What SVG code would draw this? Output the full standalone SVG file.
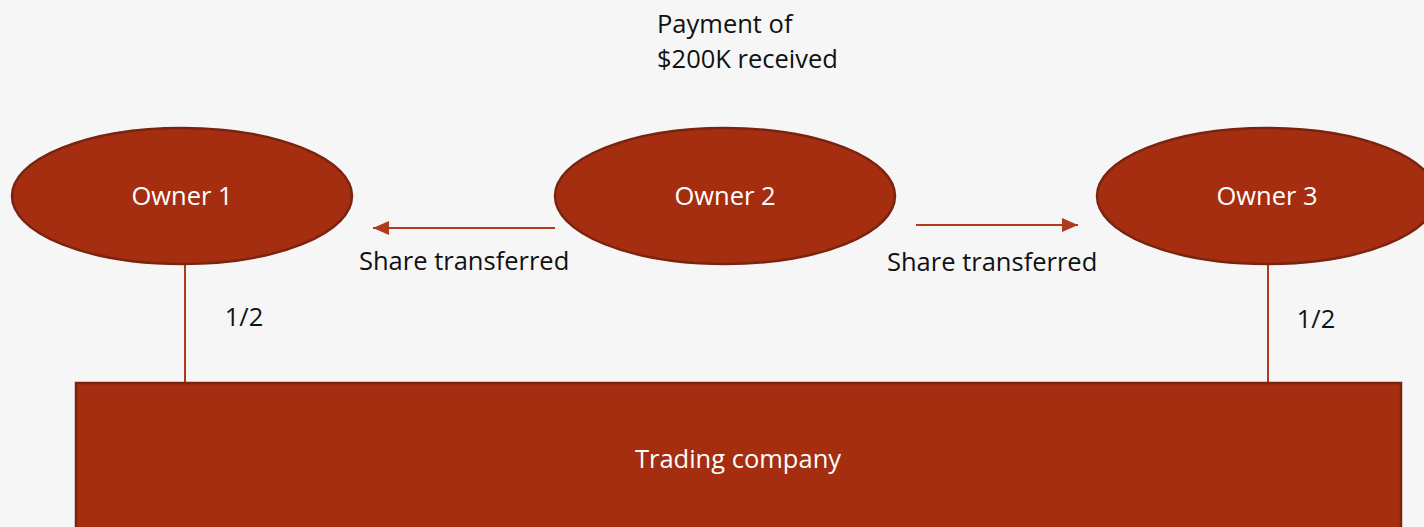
<svg xmlns="http://www.w3.org/2000/svg" width="1424" height="527" viewBox="0 0 1424 527">
<defs>
<style>
.shape{fill:#a52d10;stroke:#7a2410;stroke-width:2.5}
.wt{font-family:"Open Sans","Liberation Sans",sans-serif;font-size:25.5px;fill:#ffffff;text-anchor:middle}
.bt{font-family:"Open Sans","Liberation Sans",sans-serif;font-size:25.5px;fill:#111111}
.conn{stroke:#b03a1c;stroke-width:2;fill:none}
</style>
<marker id="ah2" markerWidth="16" markerHeight="14" refX="16" refY="7" orient="auto" markerUnits="userSpaceOnUse" viewBox="0 0 16 14">
<path d="M0,0 L16,7 L0,14 z" fill="#b03a1c"/>
</marker>
</defs>
<rect x="0" y="0" width="1424" height="527" fill="#f6f6f6"/>
<g id="connectors">
<line class="conn" x1="185" y1="264" x2="185" y2="383" stroke-width="3"/>
<line class="conn" x1="1268" y1="264" x2="1268" y2="383" stroke-width="3"/>
<line class="conn" x1="555" y1="228" x2="373" y2="228" marker-end="url(#ah2)"/>
<line class="conn" x1="916" y1="225" x2="1078" y2="225" marker-end="url(#ah2)"/>
</g>
<g id="company">
<rect class="shape" x="76" y="383" width="1325" height="160"/>
<text class="wt" x="738" y="468">Trading company</text>
</g>
<g id="owner1">
<ellipse class="shape" cx="182" cy="196" rx="170" ry="68"/>
<text class="wt" x="182" y="205">Owner 1</text>
</g>
<g id="owner2">
<ellipse class="shape" cx="725" cy="196" rx="170" ry="68"/>
<text class="wt" x="725" y="205">Owner 2</text>
</g>
<g id="owner3">
<ellipse class="shape" cx="1267" cy="196" rx="170" ry="68"/>
<text class="wt" x="1267" y="205">Owner 3</text>
</g>
<g id="labels">
<text class="bt" x="657" y="33">Payment of</text>
<text class="bt" x="657" y="68">$200K received</text>
<text class="bt" x="359" y="270">Share transferred</text>
<text class="bt" x="887" y="271">Share transferred</text>
<text class="bt" x="244" y="326" text-anchor="middle">1/2</text>
<text class="bt" x="1316" y="328" text-anchor="middle">1/2</text>
</g>
</svg>
